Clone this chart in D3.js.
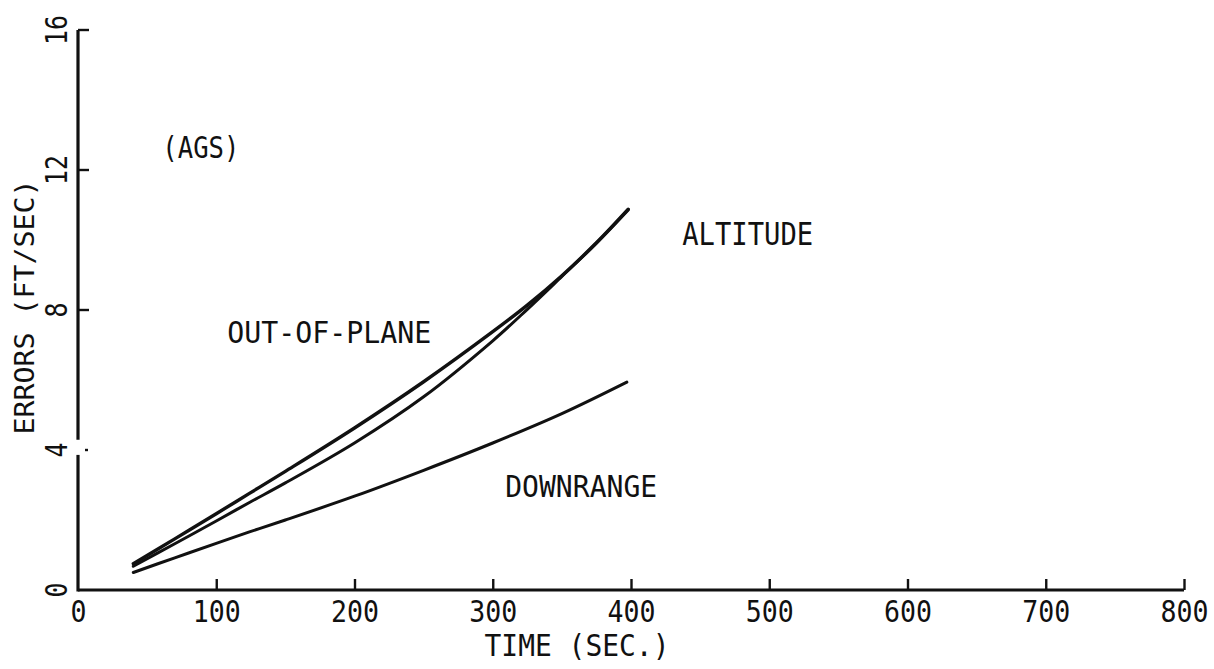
<!DOCTYPE html>
<html>
<head>
<meta charset="utf-8">
<script src="https://cdn.jsdelivr.net/npm/d3@7"></script>
<style>
  html, body { margin: 0; padding: 0; background: #fff; }
  svg { display: block; }
  text { font-family: "DejaVu Sans Mono", "Liberation Mono", monospace; fill: #111; }
</style>
</head>
<body>
<svg id="chart" width="1214" height="669"></svg>
<script>
// ---- data ----
const xTicks = [0, 100, 200, 300, 400, 500, 600, 700, 800];
const yTicks = [0, 4, 8, 12, 16];

const timeUpper  = [40, 70, 100, 124, 150, 200, 250, 300, 325, 350, 375, 398];
const altitude   = [0.75, 1.46, 2.18, 2.76, 3.39, 4.63, 5.95, 7.38, 8.14, 8.98, 9.92, 10.88];
const outOfPlane = [0.68, 1.32, 1.97, 2.50, 3.06, 4.20, 5.52, 7.12, 8.02, 8.96, 9.91, 10.86];

const timeDown  = [40, 70, 100, 124, 150, 200, 250, 300, 350, 397];
const downrange = [0.50, 0.92, 1.33, 1.66, 2.00, 2.68, 3.42, 4.20, 5.04, 5.94];

const annotations = [
  { text: "(AGS)",        t: 61,  v: 12.34, len: 77,  size: 30 },
  { text: "ALTITUDE",     t: 437, v: 9.86,  len: 131, size: 32 },
  { text: "OUT-OF-PLANE", t: 108, v: 7.06,  len: 204, size: 30 },
  { text: "DOWNRANGE",    t: 309, v: 2.66,  len: 152, size: 30 }
];

// ---- scales ----
const svg = d3.select("#chart");
svg.append("rect").attr("width", 1214).attr("height", 669).attr("fill", "#fff");

const x = d3.scaleLinear().domain([0, 800]).range([78, 1184]);
const y = d3.scaleLinear().domain([0, 16]).range([590, 30]);

const ink = "#111";

// ---- x axis ----
const xAxis = d3.axisBottom(x).tickValues(xTicks).tickSize(-11).tickSizeOuter(0).tickFormat(d3.format("d"));
const gx = svg.append("g").attr("transform", `translate(0,${y(0)})`).call(xAxis);
gx.select(".domain").attr("stroke", ink).attr("stroke-width", 3.2).attr("d", `M${x(0)},0H${x(800)}`);
gx.selectAll(".tick line").attr("stroke", ink).attr("stroke-width", 2.4)
  .style("display", d => d === 0 ? "none" : null);
gx.selectAll(".tick text")
  .attr("y", 32).attr("dy", 0)
  .attr("font-size", 30)
  .attr("font-family", "DejaVu Sans Mono, monospace")
  .attr("fill", ink)
  .attr("textLength", d => String(d).length * 16)
  .attr("lengthAdjust", "spacingAndGlyphs");

// ---- y axis (broken near 4) ----
const gy = svg.append("g").attr("transform", `translate(${x(0)},0)`);
gy.append("path").attr("fill", "none").attr("stroke", ink).attr("stroke-width", 3.2)
  .attr("d", `M0,${y(0) + 1.5}V${y(3.86)}`);
gy.append("path").attr("fill", "none").attr("stroke", ink).attr("stroke-width", 3.2)
  .attr("d", `M0,${y(4.29)}V${y(16)}`);
gy.selectAll("line.tk").data(yTicks.filter(d => d > 0)).join("line")
  .attr("class", "tk")
  .attr("x1", d => d === 4 ? 7 : 0)
  .attr("x2", d => d === 4 ? 10 : 11)
  .attr("y1", d => y(d)).attr("y2", d => y(d))
  .attr("stroke", ink).attr("stroke-width", 2.4);
gy.selectAll("text.tl").data(yTicks).join("text")
  .attr("class", "tl")
  .attr("transform", d => `translate(-11,${y(d)}) rotate(-90)`)
  .attr("text-anchor", "middle")
  .attr("font-size", 30)
  .attr("textLength", d => String(d).length * 15)
  .attr("lengthAdjust", "spacingAndGlyphs")
  .text(d => d);

// ---- axis titles ----
svg.append("text")
  .attr("x", 577).attr("y", 656)
  .attr("text-anchor", "middle")
  .attr("font-size", 30)
  .attr("textLength", 185).attr("lengthAdjust", "spacingAndGlyphs")
  .text("TIME (SEC.)");
svg.append("text")
  .attr("transform", "translate(34,307) rotate(-90)")
  .attr("text-anchor", "middle")
  .attr("font-size", 27)
  .attr("textLength", 255).attr("lengthAdjust", "spacingAndGlyphs")
  .text("ERRORS (FT/SEC)");

// ---- curves ----
const line = d3.line().x(d => x(d[0])).y(d => y(d[1])).curve(d3.curveCatmullRom.alpha(0.5));
const series = [
  { t: timeUpper, v: altitude, w: 3.4 },
  { t: timeUpper, v: outOfPlane, w: 3.0 },
  { t: timeDown, v: downrange, w: 3.0 }
];
series.forEach(s => {
  svg.append("path")
    .datum(s.t.map((t, i) => [t, s.v[i]]))
    .attr("fill", "none")
    .attr("stroke", ink)
    .attr("stroke-width", s.w)
    .attr("stroke-linecap", "round")
    .attr("d", line);
});

// ---- annotations ----
svg.selectAll("text.ann").data(annotations).join("text")
  .attr("class", "ann")
  .attr("x", d => x(d.t)).attr("y", d => y(d.v))
  .attr("font-size", d => d.size)
  .attr("textLength", d => d.len)
  .attr("lengthAdjust", "spacingAndGlyphs")
  .text(d => d.text);
</script>
</body>
</html>
